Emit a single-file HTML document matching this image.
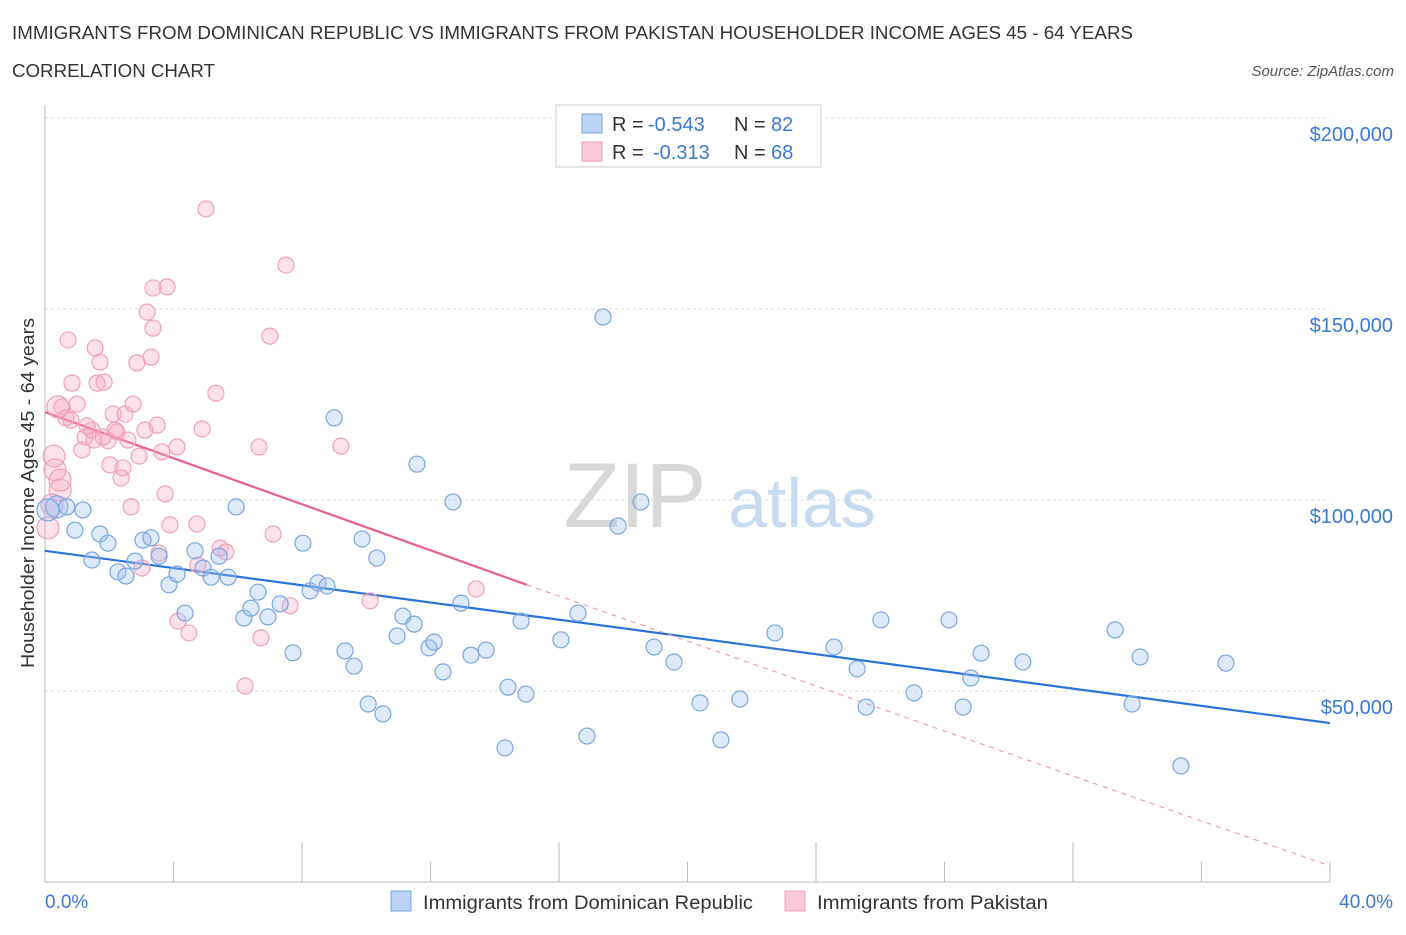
<!DOCTYPE html>
<html><head><meta charset="utf-8"><style>
body{margin:0;background:#fff;font-family:"Liberation Sans",sans-serif;}
svg text{font-family:"Liberation Sans",sans-serif;}
</style></head><body>
<svg id="chart" width="1406" height="930" viewBox="0 0 1406 930" xmlns="http://www.w3.org/2000/svg">
<text x="12" y="39" font-size="18" fill="#333" textLength="1121" lengthAdjust="spacingAndGlyphs">IMMIGRANTS FROM DOMINICAN REPUBLIC VS IMMIGRANTS FROM PAKISTAN HOUSEHOLDER INCOME AGES 45 - 64 YEARS</text>
<text x="12" y="77" font-size="18" fill="#333" textLength="203" lengthAdjust="spacingAndGlyphs">CORRELATION CHART</text>
<text x="1394" y="76" font-size="15" fill="#555" font-style="italic" text-anchor="end">Source: ZipAtlas.com</text>
<g>
<text x="635" y="527" font-size="92" fill="#d8d8d8" font-family="Liberation Serif" text-anchor="middle">ZIP</text>
<text x="802" y="527" font-size="70" fill="#c8daf0" text-anchor="middle">atlas</text>
</g>
<g id="grid"></g>
<g id="axes"></g>
<g id="lines"></g>
<g id="points"></g>
<text transform="translate(34,493) rotate(-90)" font-size="18" fill="#333" text-anchor="middle" textLength="350" lengthAdjust="spacingAndGlyphs">Householder Income Ages 45 - 64 years</text>
<text x="45" y="908" font-size="19" fill="#3b78d8">0.0%</text>
<text x="1393" y="908" font-size="19" fill="#3b78d8" text-anchor="end">40.0%</text>
<g>
<rect x="556" y="105" width="265" height="62" fill="#fff" stroke="#ccc"/>
<rect x="582" y="114" width="20" height="19" fill="#bcd3f5" stroke="#7aa6e0"/>
<text x="612" y="131" font-size="20" fill="#333">R =</text>
<text x="648" y="131" font-size="20" fill="#3b78d8">-0.543</text>
<text x="734" y="131" font-size="20" fill="#333">N =</text>
<text x="771" y="131" font-size="20" fill="#3b78d8">82</text>
<rect x="582" y="142" width="20" height="19" fill="#f9c9d8" stroke="#f0a0bb"/>
<text x="612" y="159" font-size="20" fill="#333">R =</text>
<text x="653" y="159" font-size="20" fill="#3b78d8">-0.313</text>
<text x="734" y="159" font-size="20" fill="#333">N =</text>
<text x="771" y="159" font-size="20" fill="#3b78d8">68</text>
</g>
<g>
<rect x="391" y="891" width="20" height="20" fill="#bcd3f5" stroke="#7aa6e0"/>
<text x="423" y="909" font-size="19" fill="#333" textLength="330" lengthAdjust="spacingAndGlyphs">Immigrants from Dominican Republic</text>
<rect x="785" y="891" width="20" height="20" fill="#f9c9d8" stroke="#f0a0bb"/>
<text x="817" y="909" font-size="19" fill="#333" textLength="231" lengthAdjust="spacingAndGlyphs">Immigrants from Pakistan</text>
</g>
</svg>
<script>
const yTicks=[50000,100000,150000,200000];
const yTickLabels=["$50,000","$100,000","$150,000","$200,000"];
const xTicks=[0,4,8,12,16,20,24,28,32,36,40];
const blueX=[0.37,0.68,1.18,0.93,1.46,1.71,1.96,2.27,2.52,2.80,3.05,3.30,3.55,3.86,4.11,4.36,4.67,4.92,5.17,5.42,5.70,5.95,6.19,6.41,6.63,6.94,7.32,7.72,8.03,8.25,8.50,8.78,9.00,9.34,9.62,9.87,10.06,10.33,10.52,10.96,11.14,11.49,11.95,12.11,12.39,12.70,12.95,13.26,13.73,14.32,14.41,14.97,14.82,16.06,16.59,16.87,17.37,17.84,18.55,18.96,19.58,20.39,21.04,21.63,22.72,24.56,25.28,25.56,26.02,27.05,28.14,28.58,28.82,29.14,30.44,33.31,33.84,34.09,35.36,36.76,11.58,0.09];
const blueY=[98.2,98.2,97.4,92.1,84.3,91.1,88.7,81.2,80.1,84.0,89.5,90.1,85.3,77.8,80.6,70.4,86.7,82.2,79.8,85.3,79.8,98.2,69.1,71.7,75.9,69.4,72.8,60.0,88.7,76.2,78.3,77.5,121.5,60.5,56.5,89.8,46.6,84.8,44.0,64.4,69.6,67.5,61.3,62.8,55.0,99.5,73.0,59.4,60.7,35.1,51.0,49.2,68.3,63.4,70.4,38.2,147.9,93.2,99.5,61.5,57.6,46.9,37.2,47.9,65.2,61.5,55.8,45.8,68.6,49.5,68.6,45.8,53.4,59.9,57.6,66.0,46.6,58.9,30.4,57.3,109.4,97.4];
const pinkX=[0.09,0.22,0.31,0.28,0.47,0.40,0.72,0.53,0.65,0.84,1.00,1.15,1.25,1.31,1.46,1.56,1.62,1.71,1.84,1.96,2.02,2.12,2.24,2.37,2.43,2.49,2.58,2.68,2.86,2.93,3.02,3.11,3.18,3.30,3.36,3.36,3.49,3.55,3.64,3.74,3.80,3.89,4.11,4.14,4.48,4.73,4.76,4.89,5.01,5.32,5.45,5.63,6.23,6.66,6.72,7.00,7.10,7.50,7.63,9.21,10.12,13.42,0.47,2.18,0.81,2.74,1.53,1.81];
const pinkY=[92.7,98.7,107.9,111.5,102.6,124.4,141.9,124.4,121.5,130.6,125.1,113.1,116.5,119.4,118.3,139.8,130.6,136.1,130.9,115.5,109.2,122.5,117.8,105.8,108.4,122.5,115.7,98.2,135.9,111.5,82.2,118.3,149.2,137.4,145.0,155.5,119.6,86.1,112.6,101.6,155.8,93.5,113.9,68.3,65.2,93.7,83.0,118.6,176.2,128.0,87.4,86.4,51.3,113.9,63.9,142.9,91.1,161.5,72.3,114.1,73.6,76.7,105.2,118.3,120.9,125.1,115.7,116.5];
const blueTrend=[[0,86.7],[40,41.6]];
const pinkTrendSolid=[[0,123.0],[15.0,77.8]];
const pinkTrendDash=[[15.0,77.8],[40,4.2]];
const NS="http://www.w3.org/2000/svg";
const xS=p=>45+p*32.125;
const yS=v=>691-(v-50000)/261.8;
const yK=k=>yS(k*1000);
function mk(tag,attrs,parent){const e=document.createElementNS(NS,tag);for(const k in attrs)e.setAttribute(k,attrs[k]);document.getElementById(parent).appendChild(e);return e;}
yTicks.forEach((t,i)=>{
  const l=mk('line',{x1:45,x2:1330,y1:yS(t),y2:yS(t),stroke:'#ddd','stroke-dasharray':'3,3'},'grid');
  
  
  const tx=mk('text',{x:1393,y:yS(t)+23,'font-size':20,fill:'#3b78d8','text-anchor':'end'},'axes');
  tx.textContent=yTickLabels[i];
  
  
});
const ax=mk('line',{x1:45,x2:45,y1:105,y2:882,stroke:'#bbb'},'axes');


const bx=mk('line',{x1:45,x2:1330,y1:882,y2:882,stroke:'#bbb'},'axes');


xTicks.forEach(t=>{
  const l=mk('line',{x1:xS(t),x2:xS(t),y1:882,y2:t%8===0&&t>0&&t<40?842:862,stroke:'#bbb'},'axes');
  
  
});
function tl(seg,color,dash,w,name){
  const l=mk('line',{x1:xS(seg[0][0]),y1:yK(seg[0][1]),x2:xS(seg[1][0]),y2:yK(seg[1][1]),stroke:color,'stroke-width':w},'lines');
  if(dash)l.setAttribute('stroke-dasharray',dash);
  
  
}
function pts(X,Y,fill,stroke,name){
  X.forEach((x,i)=>{
    const big=x<0.5;
    const c=mk('circle',{cx:xS(x),cy:yK(Y[i]),r:big?11:8,fill:fill,stroke:stroke,'stroke-width':1.2},'points');
    
    
  });
}
pts(pinkX,pinkY,'rgba(246,170,196,0.35)','#f0a0bb','pakistan-point');
pts(blueX,blueY,'rgba(160,192,240,0.35)','#7aa6e0','dominican-point');
tl(blueTrend,'#2a73d9',null,2.2,'dominican-trend-line');
tl(pinkTrendSolid,'#e8608e',null,2.2,'pakistan-trend-line');
tl(pinkTrendDash,'#e8a0b8','5,5',1.2,'pakistan-trend-extension');
</script>
</body></html>
